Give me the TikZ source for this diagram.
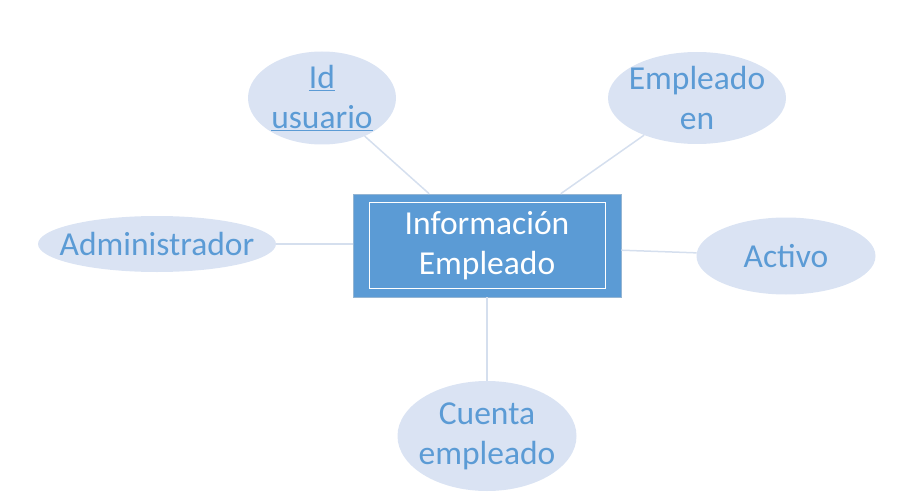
\documentclass[tikz,border=0pt]{standalone}
\usepackage{fontspec}
\setmainfont{Carlito}
\usetikzlibrary{shapes.geometric}
\definecolor{boxblue}{HTML}{5B9BD5}
\definecolor{ellfill}{HTML}{DAE3F3}
\definecolor{txtblue}{HTML}{5B9BD5}
\definecolor{linecol}{HTML}{D5DFEE}
\tikzset{
  lbl/.style={inner sep=0pt, text=txtblue, align=center, font=\fontsize{33.5}{40}\selectfont},
  attr/.style={ellipse, fill=ellfill, draw=none, inner sep=0pt},
  entity/.style={rectangle, fill=boxblue, draw=boxblue!85!black!60!white, line width=0.6pt,
    inner sep=0pt, text=white, align=center, font=\fontsize{33.5}{40}\selectfont},
  conn/.style={draw=linecol, line width=1.5pt}
}
\begin{document}
\begin{tikzpicture}[x=1pt,y=-1pt]
\useasboundingbox (0,0) rectangle (918,500);
\node[entity, minimum width=268pt, minimum height=103pt] (box) at (487,245.5) {Información\\Empleado};
\draw[white, line width=1.2pt] ([xshift=17pt,yshift=-9pt]box.north west) rectangle ([xshift=-16pt,yshift=9pt]box.south east);
\node[attr, minimum width=148pt, minimum height=93pt, label={[lbl]center:{\underline{Id}\\\underline{usuario}}}] (idu) at (322,98) {};
\node[attr, minimum width=178pt, minimum height=92pt, label={[lbl]center:{Empleado\\en}}] (emp) at (697,98) {};
\node[attr, minimum width=238pt, minimum height=56pt, label={[lbl]center:{Administrador}}] (adm) at (157,244) {};
\node[attr, minimum width=179pt, minimum height=77pt, label={[lbl]center:{Activo}}] (act) at (786,256) {};
\node[attr, minimum width=179pt, minimum height=110pt, label={[lbl]center:{Cuenta\\empleado}}] (cta) at (487,436) {};
\draw[conn] (box) -- (idu);
\draw[conn] (box) -- (emp);
\draw[conn] (box.west |- adm) -- (adm);
\draw[conn] (box) -- (act);
\draw[conn] (box) -- (cta);
\end{tikzpicture}
\end{document}
